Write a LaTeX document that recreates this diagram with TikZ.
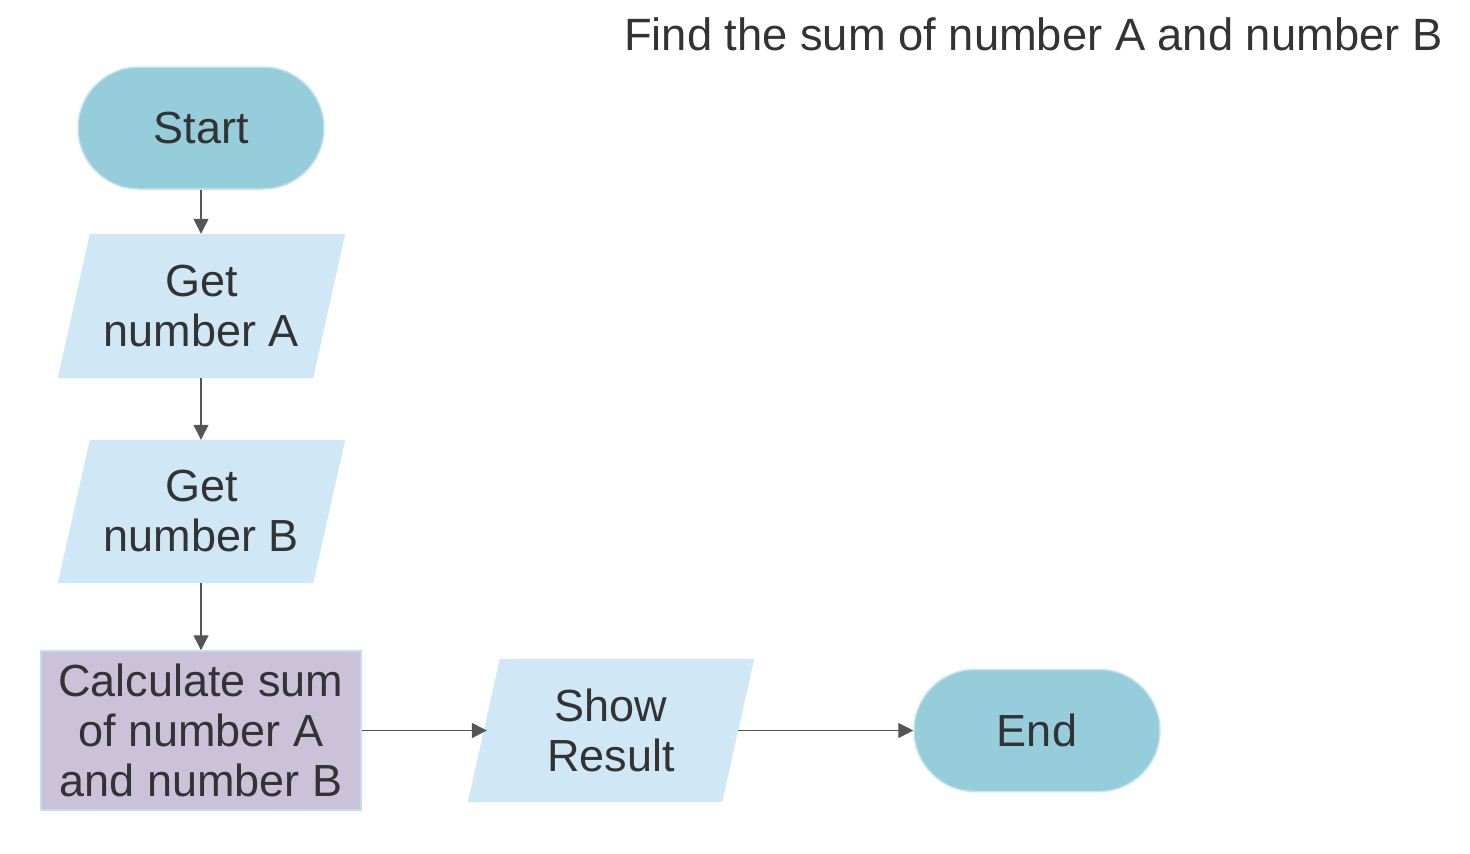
\documentclass[tikz,border=0pt]{standalone}
\usepackage{fontspec}
\setmainfont{Liberation Sans}
\usetikzlibrary{arrows.meta,backgrounds,calc}
\definecolor{termfill}{HTML}{96CDDB}
\definecolor{termline}{HTML}{C5E3EE}
\definecolor{iofill}{HTML}{D0E8F5}
\definecolor{procfill}{HTML}{CBC2D9}
\definecolor{procline}{HTML}{C0E0F0}
\definecolor{txt}{HTML}{333333}
\definecolor{arr}{HTML}{555555}
\tikzset{
  every node/.style={text=txt, font=\fontsize{45}{50}\selectfont},
  term/.style={draw=termline, line width=1.5pt, fill=termfill,
    minimum width=246pt, minimum height=122pt, rounded corners=61pt, inner sep=0pt},
  iobox/.style={minimum width=255pt, minimum height=144pt, inner sep=0pt, align=center},
  procbox/.style={draw=procline, line width=1.5pt, fill=procfill, minimum width=320pt,
    minimum height=159pt, inner sep=0pt, align=center},
  conn/.style={draw=arr, line width=1.4pt, -{Triangle[length=15pt,width=15pt]}, arr},
}
\newcommand{\iofillpath}[1]{%
  \begin{scope}[on background layer]
    \fill[iofill] ([xshift=-16pt]#1.south west) -- ([xshift=-16pt]#1.south east)
      -- ([xshift=16pt]#1.north east) -- ([xshift=16pt]#1.north west) -- cycle;
  \end{scope}}
\begin{document}
\begin{tikzpicture}[x=1pt,y=-1pt]
  \useasboundingbox (0,0) rectangle (1470,854);
  \node[anchor=base east, font=\fontsize{45.3}{50}\selectfont] (title) at (1446,50) {Find the sum of number A and number B};
  \node[term] (start) at (201,128) {Start};
  \node[iobox] (ga) at (201.5,306) {Get\\ number A};
  \iofillpath{ga}
  \node[iobox, minimum height=143pt] (gb) at (201.5,511.5) {Get\\ number B};
  \iofillpath{gb}
  \node[procbox] (calc) at (201,730.5) {Calculate sum\\ of number A\\ and number B};
  \node[iobox, minimum width=254pt, minimum height=143pt] (show) at (611,730.5) {Show\\ Result};
  \iofillpath{show}
  \node[term] (end) at (1037,730.5) {End};
  \draw[conn] (start.south) -- (start.south |- ga.north);
  \draw[conn] (start.south |- ga.south) -- (start.south |- gb.north);
  \draw[conn] (start.south |- gb.south) -- (start.south |- calc.north);
  \draw[conn] (calc.east) -- ([xshift=3pt]show.west);
  \draw[conn] (show.east) -- (end.west);
\end{tikzpicture}
\end{document}
